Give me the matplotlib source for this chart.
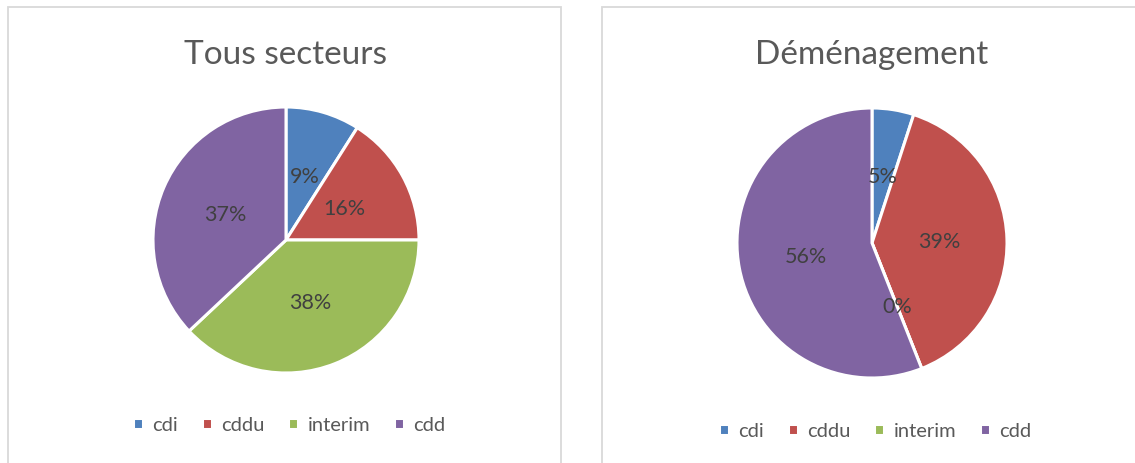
import matplotlib
matplotlib.use("Agg")
import matplotlib.pyplot as plt
from matplotlib.patches import Rectangle

plt.rcParams['font.family'] = ['Lato', 'DejaVu Sans']

categories = ['cdi', 'cddu', 'interim', 'cdd']
colors = ['#4F81BD', '#C0504D', '#9BBB59', '#8064A2']

titles = ['Tous secteurs', 'Déménagement']
tous_secteurs = [9, 16, 38, 37]
demenagement = [5, 39, 0, 56]

W, H = 1135, 464
fig = plt.figure(figsize=(W / 100, H / 100), dpi=100)


def fx(px):
    return px / W


def fy(py):
    return 1 - py / H


# panel borders
for x0, x1 in [(8, 561), (602, 1145)]:
    fig.patches.append(Rectangle((fx(x0), fy(475)), fx(x1 - x0), (475 - 8) / H,
                                 transform=fig.transFigure, fill=False,
                                 edgecolor='#D9D9D9', linewidth=1.3))

panels = [
    # values, center x, center y, radius, title y, legend y
    (tous_secteurs, 286, 241, 133, 55, 426),
    (demenagement, 872, 244, 135, 55, 432),
]

for (values, cx, cy, r, ty, ly), title in zip(panels, titles):
    ax = fig.add_axes([fx(cx - r), fy(cy + r), 2 * r / W, 2 * r / H])
    wedges, _, autotexts = ax.pie(values, colors=colors, startangle=90, counterclock=False,
                                  autopct='%.0f%%', pctdistance=0.5, radius=1,
                                  wedgeprops=dict(edgecolor='white', linewidth=2.2),
                                  textprops=dict(color='#404040', fontsize=15.5))
    ax.set_xlim(-1.0, 1.0)
    ax.set_ylim(-1.0, 1.0)
    ax.set_aspect('equal')
    fig.text(fx(cx), fy(ty), title, ha='center', va='center', fontsize=24, color='#595959')
    fig.legend(wedges, categories, loc='center', bbox_to_anchor=(fx(cx + 3), fy(ly)),
               ncol=4, frameon=False, fontsize=14.5, handlelength=0.5, handleheight=0.5,
               handletextpad=0.45, columnspacing=1.2, labelcolor='#595959')

fig.savefig('out.png', dpi=100)
